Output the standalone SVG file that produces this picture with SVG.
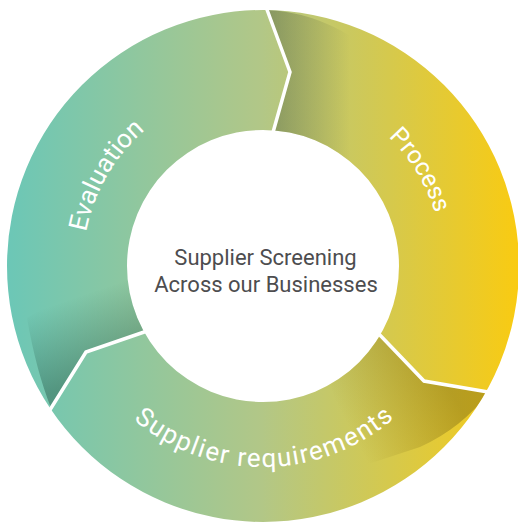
<svg xmlns="http://www.w3.org/2000/svg" width="518" height="524" viewBox="0 0 518 524">
<style>
.lbl{font-family:Roboto,"Liberation Sans",Arial,sans-serif;fill:#ffffff;font-size:26px}
.ctr{font-family:Roboto,"Liberation Sans",Arial,sans-serif;fill:#4d4d4f;font-size:22px;text-anchor:middle}
.sep{fill:none;stroke:#ffffff;stroke-width:3.5;stroke-linejoin:miter}
</style>
<defs>
<linearGradient id="base" gradientUnits="userSpaceOnUse" x1="5" y1="0" x2="518" y2="0">
<stop offset="0" stop-color="#6bc7b7"/>
<stop offset="0.5" stop-color="#b2c787"/>
<stop offset="1" stop-color="#f9cb12"/>
</linearGradient>
<linearGradient id="shP" gradientUnits="userSpaceOnUse" x1="268" y1="0" x2="350" y2="0">
<stop offset="0" stop-color="#4a5530" stop-opacity="0.42"/>
<stop offset="1" stop-color="#4a5530" stop-opacity="0"/>
</linearGradient>
<linearGradient id="shS" gradientUnits="userSpaceOnUse" x1="440" y1="370" x2="345" y2="420">
<stop offset="0" stop-color="#6a5a10" stop-opacity="0.4"/>
<stop offset="1" stop-color="#6a5a10" stop-opacity="0"/>
</linearGradient>
<linearGradient id="shE" gradientUnits="userSpaceOnUse" x1="95" y1="378" x2="68" y2="300">
<stop offset="0" stop-color="#1f5040" stop-opacity="0.42"/>
<stop offset="1" stop-color="#1f5040" stop-opacity="0"/>
</linearGradient>
<clipPath id="ringClip">
<path clip-rule="evenodd" d="M7,266 A256,256 0 1 1 519,266 A256,256 0 1 1 7,266 Z M127,266 A136,136 0 1 0 399,266 A136,136 0 1 0 127,266 Z"/>
</clipPath>
<path id="pE" d="M85.7,297.3 A180,180 0 0 1 201.4,96.9"/>
<path id="pP" d="M320.4,95.4 A180,180 0 0 1 441.0,292.9"/>
<path id="pS" d="M74.7,336.4 A201,201 0 0 0 452.5,333.1"/>
</defs>

<g id="ring">
<path fill="url(#base)" fill-rule="evenodd" d="M7,266 A256,256 0 1 1 519,266 A256,256 0 1 1 7,266 Z M127,266 A136,136 0 1 0 399,266 A136,136 0 1 0 127,266 Z"/>
</g>

<g id="evaluation">
<path clip-path="url(#ringClip)" fill="url(#shE)" d="M145,332 L86,352 L51,408 Q36,370 27,318 L140,250 L190,300 Z"/>
<text class="lbl"><textPath href="#pE" startOffset="50%" text-anchor="middle">Evaluation</textPath></text>
</g>

<g id="process">
<path clip-path="url(#ringClip)" fill="url(#shP)" d="M273,132 L290,72 L267,10 Q312,12 352,37 L380,60 L340,200 L273,200 Z"/>
<text class="lbl" style="font-size:25px"><textPath href="#pP" startOffset="50%" text-anchor="middle">Process</textPath></text>
</g>

<g id="supplier-requirements">
<path clip-path="url(#ringClip)" fill="url(#shS)" d="M381,336 L424,381 L489,392 Q462,428 420,447 L350,470 L330,380 Z"/>
<text class="lbl" letter-spacing="1.5"><textPath href="#pS" startOffset="50%" text-anchor="middle">Supplier requirements</textPath></text>
</g>

<g id="connectors">
<polyline class="sep" points="271.7,137 290,72 265.3,5"/>
<polyline class="sep" points="377,332 424,381 494,393"/>
<polyline class="sep" points="150,330 86,352 48,413"/>
</g>

<g id="center">
<text class="ctr" x="265.5" y="264.5">Supplier Screening</text>
<text class="ctr" x="266" y="292">Across our Businesses</text>
</g>
</svg>
